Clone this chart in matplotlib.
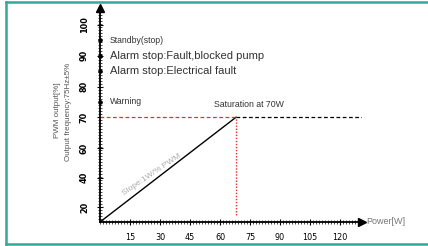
import numpy as np
import matplotlib
matplotlib.use("Agg")
from matplotlib import pyplot as plt
from matplotlib.lines import Line2D
from matplotlib.ticker import FixedLocator, MultipleLocator

# data
x_ticks = [15, 30, 45, 60, 75, 90, 105, 120]
y_ticks = [20, 40, 60, 70, 80, 90, 100]
slope_x = [0, 68]
slope_y = [10, 70]
sat_x = 68
sat_y = 70
x_end = 131
state_levels = [95, 90, 85, 75]
state_labels = ["Standby(stop)", "Alarm stop:Fault,blocked pump",
                "Alarm stop:Electrical fault", "Warning"]
state_sizes = [6.2, 8, 8, 6.2]

plt.rcParams['font.family'] = ['Liberation Sans', 'DejaVu Sans']


# y axis is stretched above 60 %
def fwd(v):
    v = np.asarray(v, dtype=float)
    return np.where(v <= 60, (v - 10) * 1.48, 74 + (v - 60) * 3.075)


def inv(p):
    p = np.asarray(p, dtype=float)
    return np.where(p <= 74, p / 1.48 + 10, 60 + (p - 74) / 3.075)


fig = plt.figure(figsize=(4.28, 2.46), dpi=100)
ax = fig.add_axes([100 / 428, 24 / 246, 262 / 428, 214 / 246])
ax.set_yscale('function', functions=(fwd, inv))
ax.set_xlim(0, x_end)
ax.set_ylim(10, float(inv(214)))

ax.plot(slope_x, slope_y, color='black', lw=1.0)
ax.plot([0, sat_x], [sat_y, sat_y], color='#e83030', lw=0.9, ls=(0, (3, 2)))
ax.plot([sat_x, x_end], [sat_y, sat_y], color='black', lw=0.9, ls=(0, (3, 2)))
ax.plot([sat_x, sat_x], [15, sat_y], color='#e83030', lw=1.0, ls=(0, (1, 1.2)))

ax.plot([0] * len(state_levels), state_levels, 'o', color='black', ms=2.3, clip_on=False)
for lvl, lab, fs in zip(state_levels, state_labels, state_sizes):
    ax.annotate(lab, (0, lvl), xytext=(7, 0), textcoords='offset points',
                fontsize=fs, va='center', ha='left', color='#333333')

ax.annotate("Saturation at 70W", (sat_x + 6.5, sat_y), xytext=(0, 6), textcoords='offset points',
            fontsize=6.3, ha='center', va='bottom', color='#333333')
ax.text(26, 42, "Slope:1W/% PWM", fontsize=6, color='#aaaaaa', rotation=34,
        ha='center', va='center', rotation_mode='anchor')

ax.spines['top'].set_visible(False)
ax.spines['right'].set_visible(False)
ax.spines['left'].set_linewidth(1.3)
ax.spines['bottom'].set_linewidth(1.3)
ax.plot(1, 0, '>k', ms=6, transform=ax.transAxes, clip_on=False)
ax.plot(0, 1, '^k', ms=6, transform=ax.transAxes, clip_on=False)

ax.set_xticks(x_ticks)
ax.set_xticklabels([str(t) for t in x_ticks])
ax.xaxis.set_minor_locator(MultipleLocator(1.5))
ax.set_yticks(y_ticks)
ax.set_yticklabels([str(t) for t in y_ticks], rotation=90, va='center')
ax.yaxis.set_minor_locator(FixedLocator(inv(np.arange(3, 212, 3))))
ax.tick_params(which='major', direction='inout', length=4, width=0.8, labelsize=6.5, pad=6)
ax.tick_params(which='minor', direction='inout', length=2.5, width=0.5)
for lab in ax.get_xticklabels() + ax.get_yticklabels():
    lab.set_fontfamily('DejaVu Sans')
    lab.set_fontstretch('condensed')
for lab in ax.get_yticklabels():
    lab.set_fontweight('bold')

ax.text(1.015, 0, "Power[W]", transform=ax.transAxes, fontsize=6.5, color='#777777',
        ha='left', va='center')
fig.text(58 / 428, 1 - 110 / 246, "PWM output[%]", rotation=90, fontsize=5.8,
         color='#555555', ha='center', va='center')
fig.text(69 / 428, 1 - 112 / 246, "Output frequency:75Hz±5%", rotation=90, fontsize=5.8,
         color='#555555', ha='center', va='center')

teal = '#35a89a'
fig.add_artist(Line2D([6 / 428, 6 / 428], [2 / 246, 1 - 1.5 / 246], color=teal, lw=1.8))
fig.add_artist(Line2D([6 / 428, 1], [2 / 246, 2 / 246], color=teal, lw=1.8))
fig.add_artist(Line2D([6 / 428, 1], [1 - 1.5 / 246, 1 - 1.5 / 246], color=teal, lw=1.8))

fig.savefig("out.png", dpi=100)
